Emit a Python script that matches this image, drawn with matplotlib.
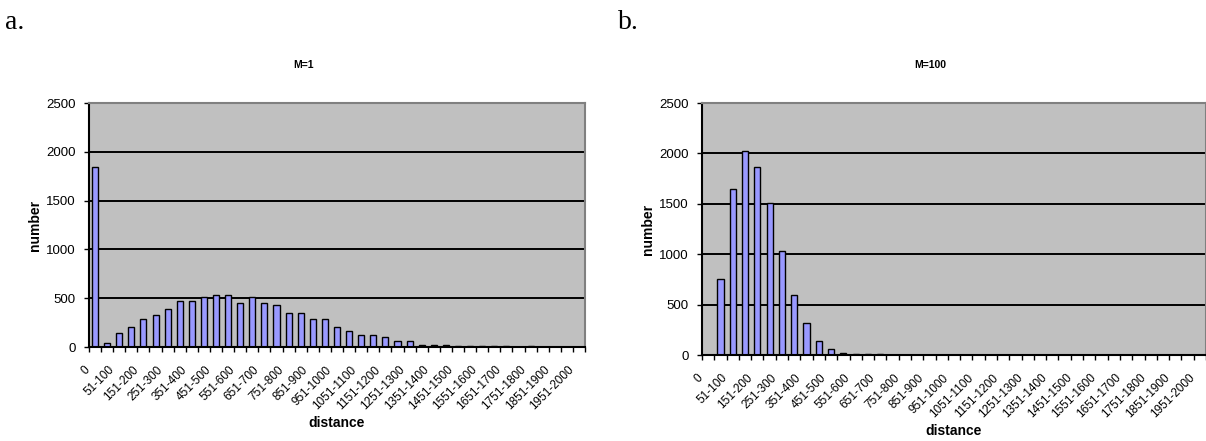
import numpy as np
import matplotlib
matplotlib.use("Agg")
import matplotlib.pyplot as plt
from matplotlib.transforms import offset_copy

plt.rcParams['font.family'] = ['Liberation Sans', 'DejaVu Sans']

# distance bins: "0", "1-50", "51-100", ... "1951-2000"
categories = ['0'] + ['%d-%d' % (s, s + 49) for s in range(1, 2000, 50)]

# counts
m1_counts = [1840, 40, 145, 205, 285, 330, 390, 470, 470, 510, 530, 530, 450, 510,
             450, 430, 350, 350, 285, 285, 205, 165, 125, 125, 100, 60, 60, 20,
             20, 20, 8, 8, 12, 8, 8, 3, 6, 0, 0, 0, 0]
m100_counts = [0, 755, 1650, 2020, 1865, 1510, 1035, 595, 320, 140, 60, 20, 8, 6,
               6, 0, 0, 0, 0, 0, 0, 0, 0, 0, 0, 0, 0, 0,
               0, 0, 0, 0, 0, 0, 0, 0, 0, 0, 0, 0, 0]
y_ticks = [0, 500, 1000, 1500, 2000, 2500]

panels = [
    ('a.', 'M=1', m1_counts, [89, 103, 585, 347], 304),
    ('b.', 'M=100', m100_counts, [702, 103, 1206, 355], 930),
]

W, H = 1206, 441
fig = plt.figure(figsize=(W / 100, H / 100), dpi=100)

x = np.arange(len(categories))

for letter, title, counts, box, title_x in panels:
    x0, y0, x1, y1 = box
    ax = fig.add_axes([x0 / W, 1 - y1 / H, (x1 - x0) / W, (y1 - y0) / H])
    ax.set_facecolor('#C0C0C0')
    ax.set_axisbelow(True)
    ax.bar(x, counts, width=0.5, color='#9999FF', edgecolor='black', linewidth=1.0)

    ax.set_xlim(-0.5, len(categories) - 0.5)
    ax.set_ylim(0, 2500)
    ax.set_yticks(y_ticks)
    ax.set_yticklabels([str(v) for v in y_ticks], fontsize=9.5)
    ax.yaxis.grid(True, color='black', linewidth=1.4)

    ax.set_xticks(np.arange(-0.5, len(categories), 1))
    ax.set_xticklabels([])
    ax.tick_params(axis='x', direction='out', length=3.5, width=1.0, color='black')
    ax.tick_params(axis='y', direction='out', length=3.5, width=1.0, color='black', pad=6)

    for side in ('left', 'bottom'):
        ax.spines[side].set_color('black')
        ax.spines[side].set_linewidth(1.5)
    for side in ('top', 'right'):
        ax.spines[side].set_color('#808080')
        ax.spines[side].set_linewidth(1.5)

    # every other bin label, rotated like the original
    trans = offset_copy(ax.get_xaxis_transform(), fig=fig, x=-7, y=-21, units='dots')
    for i in range(0, len(categories), 2):
        ax.text(i, 0, categories[i], transform=trans, rotation=45,
                rotation_mode='anchor', ha='right', va='center', fontsize=8.5)

    ax.text(0.5, 0, 'distance', transform=offset_copy(ax.transAxes, fig=fig, y=-76, units='dots'),
            ha='center', va='center', fontsize=10, fontweight='bold')
    ax.set_ylabel('number', fontsize=10, fontweight='bold', labelpad=3)

    fig.text(title_x / W, 1 - 65 / H, title, ha='center', va='center',
             fontsize=7.5, fontweight='bold')
    fig.text((x0 - 84) / W, 1 - 29 / H, letter, ha='left', va='baseline',
             fontsize=20, family=['Liberation Serif', 'DejaVu Serif'])

fig.savefig('out.png', dpi=100)
